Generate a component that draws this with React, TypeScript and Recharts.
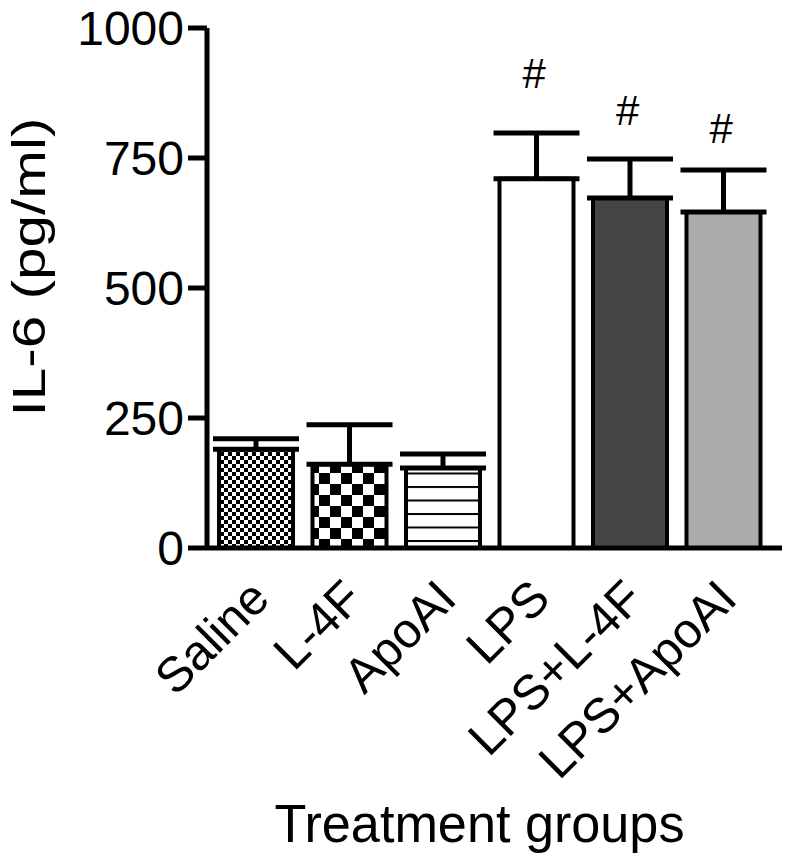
import React from 'react';
import { ComposedChart, Bar, Cell, ErrorBar, Line, XAxis, YAxis, Label } from 'recharts';

const categories = ['Saline', 'L-4F', 'ApoAI', 'LPS', 'LPS+L-4F', 'LPS+ApoAI'];
const means = [190, 161, 154, 710, 673, 646];
const errors = [20, 76, 27, 88, 75, 81];
const sigMarks = [null, null, null, 912, 842, 806];
const fills = ['url(#patSaline)', 'url(#patL4F)', 'url(#patApo)', '#ffffff', '#454545', '#ababab'];
const yTicks = [0, 250, 500, 750, 1000];

const data = categories.map((c, i) => ({
  name: c,
  value: means[i],
  err: [0, errors[i]],
  sig: sigMarks[i],
}));

const FONT = '"Liberation Sans", Arial, sans-serif';

const XTick = (props: any) => {
  const { x, y, payload } = props;
  return (
    <g transform={`translate(${x + 16},${y + 45}) rotate(-45)`}>
      <text x={0} y={0} textAnchor="end" fontFamily={FONT} fontSize={49} fill="#000">
        {payload.value}
      </text>
    </g>
  );
};

const SigDot = (props: any) => {
  const { cx, cy, value } = props;
  if (value === null || value === undefined || cy === null || cy === undefined || isNaN(cy)) return null;
  return (
    <text x={cx - 2} y={cy} textAnchor="middle" dominantBaseline="central" fontFamily={FONT} fontSize={42} fill="#000">
      #
    </text>
  );
};

export default function App() {
  return (
    <div style={{ position: 'absolute', left: 0, top: 0, width: 785, height: 861, background: '#fff' }}>
      <svg width={0} height={0} style={{ position: 'absolute' }}>
        <defs>
          <pattern id="patSaline" patternUnits="userSpaceOnUse" width={8} height={8}>
            <rect x={0} y={0} width={8} height={8} fill="#fff" />
            <rect x={0} y={0} width={4} height={4} fill="#000" />
            <rect x={4} y={4} width={4} height={4} fill="#000" />
          </pattern>
          <pattern id="patL4F" patternUnits="userSpaceOnUse" width={22} height={22}>
            <rect x={0} y={0} width={22} height={22} fill="#fff" />
            <rect x={0} y={0} width={11} height={11} fill="#000" />
            <rect x={11} y={11} width={11} height={11} fill="#000" />
          </pattern>
          <pattern id="patApo" patternUnits="userSpaceOnUse" width={10} height={13.5}>
            <rect x={0} y={0} width={10} height={13.5} fill="#fff" />
            <rect x={0} y={0} width={10} height={2} fill="#000" />
          </pattern>
        </defs>
      </svg>
      <ComposedChart
        width={785}
        height={861}
        data={data}
        margin={{ top: 28, right: 3, bottom: 0, left: 0 }}
      >
        <XAxis
          dataKey="name"
          height={313}
          padding={{ left: 2, right: 12 }}
          axisLine={{ stroke: '#000', strokeWidth: 5 }}
          tickLine={false}
          tick={<XTick />}
          interval={0}
        >
          <Label
            content={(p: any) => {
              const vb = p.viewBox;
              const cx = vb.x + vb.width / 2 - 15;
              const cy = vb.y + 294;
              return (
                <text
                  x={cx}
                  y={cy}
                  textAnchor="middle"
                  fontFamily={FONT}
                  fontSize={54}
                  textLength={410}
                  lengthAdjust="spacingAndGlyphs"
                  fill="#000"
                >
                  Treatment groups
                </text>
              );
            }}
          />
        </XAxis>
        <YAxis
          width={207}
          domain={[0, 1000]}
          ticks={yTicks}
          interval={0}
          axisLine={{ stroke: '#000', strokeWidth: 5 }}
          tickLine={{ stroke: '#000', strokeWidth: 5 }}
          tickSize={19}
          tickMargin={4}
          tick={{ fontFamily: FONT, fontSize: 48, fill: '#000' }}
        >
          <Label
            content={(p: any) => {
              const vb = p.viewBox;
              const cx = 45;
              const cy = vb.y + vb.height / 2 - 21;
              return (
                <text
                  x={cx}
                  y={cy}
                  transform={`rotate(-90, ${cx}, ${cy})`}
                  textAnchor="middle"
                  fontFamily={FONT}
                  fontSize={46}
                  textLength={299}
                  lengthAdjust="spacingAndGlyphs"
                  fill="#000"
                >
                  IL-6 (pg/ml)
                </text>
              );
            }}
          />
        </YAxis>
        <Bar dataKey="value" barSize={74} stroke="#000" strokeWidth={4} isAnimationActive={false}>
          {data.map((d, i) => (
            <Cell key={d.name} fill={fills[i]} />
          ))}
          <ErrorBar dataKey="err" width={43} stroke="#000" strokeWidth={5} direction="y" />
        </Bar>
        <Line
          dataKey="sig"
          stroke="none"
          dot={<SigDot />}
          activeDot={false}
          legendType="none"
          isAnimationActive={false}
        />
      </ComposedChart>
    </div>
  );
}
